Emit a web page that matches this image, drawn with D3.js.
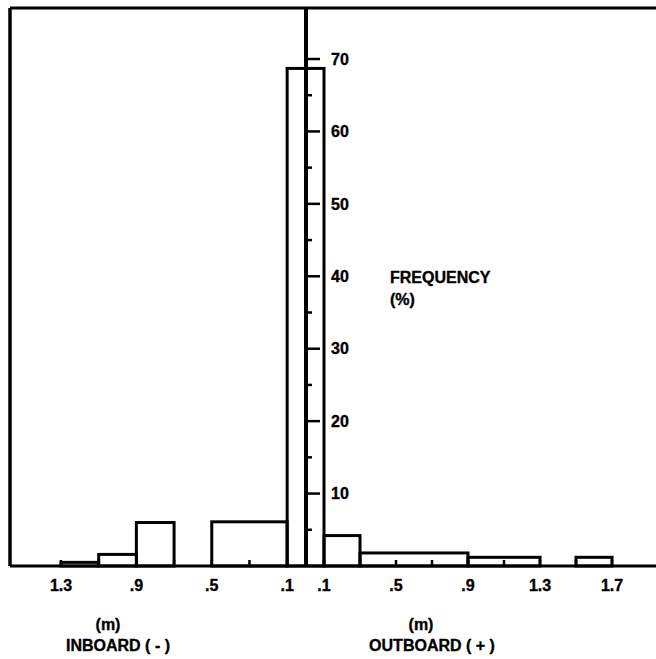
<!DOCTYPE html>
<html>
<head>
<meta charset="utf-8">
<script src="https://cdn.jsdelivr.net/npm/d3@7"></script>
<style>
  html, body { margin: 0; padding: 0; background: #fff; }
  svg text { font-family: "Liberation Sans", Arial, Helvetica, sans-serif; font-weight: bold; fill: #000; stroke: #000; stroke-width: 0.35px; }
</style>
</head>
<body>
<svg id="chart" width="656" height="659"></svg>
<script>
// Lateral position bins (m); negative = inboard, positive = outboard
const binStart = [-1.3, -1.1, -0.9, -0.5, -0.1, 0.1, 0.3, 0.9, 1.5];
const binEnd   = [-1.1, -0.9, -0.7, -0.1,  0.1, 0.3, 0.9, 1.3, 1.7];
const freq     = [ 0.5,  1.6,  6.0,  6.1, 68.7, 4.2, 1.8, 1.2, 1.2];

const yTicks = [10, 20, 30, 40, 50, 60, 70];
const yMinorTicks = [5, 15, 25, 35, 45, 55, 65];
const xTickValues = [-1.3, -0.9, -0.5, -0.1, 0.1, 0.5, 0.9, 1.3, 1.7];
const xTickLabels = ["1.3", ".9", ".5", ".1", ".1", ".5", ".9", "1.3", "1.7"];
const xMinorTicks = [-1.3, -1.1, -0.9, -0.7, -0.5, -0.3, -0.1, 0.1, 0.3, 0.5, 0.7, 0.9, 1.1, 1.3, 1.5, 1.7];

(function () {
const svg = d3.select("#chart");
const pLeft = 10, pRight = 656, pTop = 8, pBottom = 566;

const x = d3.scaleLinear().domain([-1.3, 0, 1.7]).range([61, 306, 612]);
const y = d3.scaleLinear().domain([0, 70]).range([pBottom, 59]);

// bars
svg.append("g").selectAll("rect")
  .data(freq.map((f, i) => ({s: binStart[i], e: binEnd[i], f})))
  .join("rect")
  .attr("x", d => x(d.s))
  .attr("width", d => x(d.e) - x(d.s))
  .attr("y", d => y(d.f))
  .attr("height", d => y(0) - y(d.f))
  .attr("fill", "none")
  .attr("stroke", "#000")
  .attr("stroke-width", 3);

// frame: top and left
svg.append("line").attr("x1", pLeft).attr("x2", pRight).attr("y1", pTop).attr("y2", pTop)
  .attr("stroke", "#000").attr("stroke-width", 3);
svg.append("line").attr("x1", pLeft).attr("x2", pLeft).attr("y1", pTop).attr("y2", pBottom)
  .attr("stroke", "#000").attr("stroke-width", 3.5);

// bottom axis
const xAxis = svg.append("g").attr("transform", `translate(0,${pBottom})`);
xAxis.append("line").attr("x1", pLeft).attr("x2", pRight).attr("stroke", "#000").attr("stroke-width", 3);
xAxis.selectAll("line.minor").data(xMinorTicks).join("line").attr("class", "minor")
  .attr("x1", d => x(d)).attr("x2", d => x(d)).attr("y1", 0).attr("y2", -6)
  .attr("stroke", "#000").attr("stroke-width", 2.5);
xAxis.selectAll("text").data(xTickValues).join("text")
  .attr("x", d => x(d)).attr("y", 25)
  .attr("text-anchor", "middle").attr("font-size", 16)
  .text((d, i) => xTickLabels[i]);

// central vertical axis
const yAxis = svg.append("g").attr("transform", `translate(${x(0)},0)`);
yAxis.append("line").attr("y1", pTop).attr("y2", pBottom).attr("stroke", "#000").attr("stroke-width", 4);
yAxis.selectAll("line.major").data(yTicks).join("line").attr("class", "major")
  .attr("x1", 0).attr("x2", 14).attr("y1", d => y(d)).attr("y2", d => y(d))
  .attr("stroke", "#000").attr("stroke-width", 2.5);
yAxis.selectAll("line.minor").data(yMinorTicks).join("line").attr("class", "minor")
  .attr("x1", 0).attr("x2", 6).attr("y1", d => y(d)).attr("y2", d => y(d))
  .attr("stroke", "#000").attr("stroke-width", 2.5);
yAxis.selectAll("text").data(yTicks).join("text")
  .attr("x", 25).attr("y", d => y(d)).attr("dy", "0.36em")
  .attr("font-size", 16)
  .text(d => d);

// axis titles
svg.append("text").attr("x", 390).attr("y", 283).attr("font-size", 16).text("FREQUENCY");
svg.append("text").attr("x", 390).attr("y", 305).attr("font-size", 16).text("(%)");

svg.append("text").attr("x", 108).attr("y", 630).attr("text-anchor", "middle").attr("font-size", 16).text("(m)");
svg.append("text").attr("x", 118).attr("y", 651).attr("text-anchor", "middle").attr("font-size", 16).text("INBOARD ( - )");
svg.append("text").attr("x", 421).attr("y", 630).attr("text-anchor", "middle").attr("font-size", 16).text("(m)");
svg.append("text").attr("x", 432).attr("y", 651).attr("text-anchor", "middle").attr("font-size", 16).text("OUTBOARD ( + )");
})();
</script>
</body>
</html>
